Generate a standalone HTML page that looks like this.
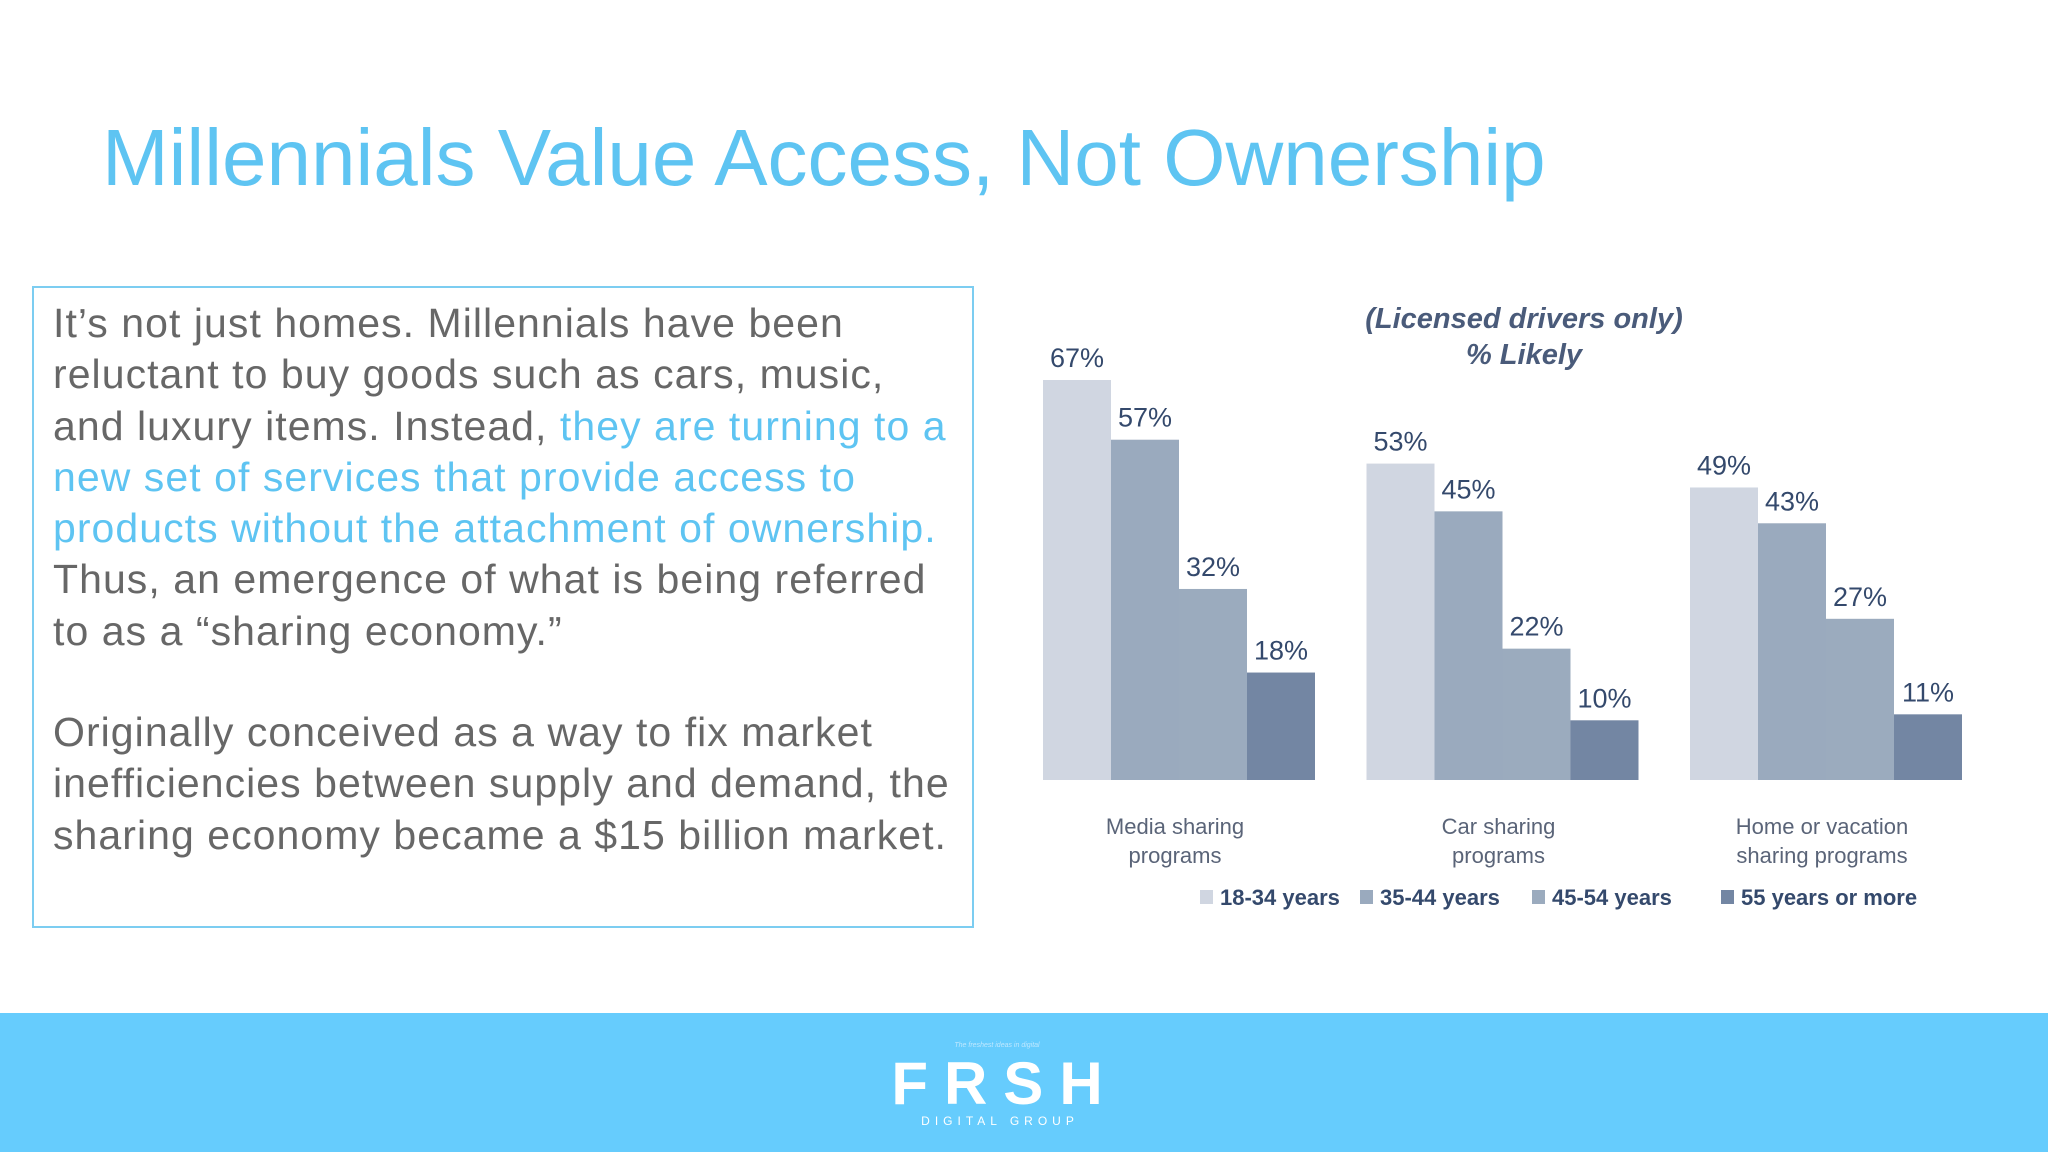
<!DOCTYPE html>
<html><head><meta charset="utf-8"><style>
body{margin:0;width:2048px;height:1152px;position:relative;background:#fff;font-family:"Liberation Sans",sans-serif;overflow:hidden}
#title{position:absolute;left:102px;top:112px;font-size:80px;color:#5ec4f2;white-space:nowrap}
#box{position:absolute;left:32px;top:286px;width:942px;height:642px;border:2px solid #7ccdf1;box-sizing:border-box}
#box p{margin:0;position:absolute;left:19px;font-size:41px;letter-spacing:1.05px;line-height:51.3px;color:#676767;width:960px}
.hl{color:#5ec4f2}
#footer{position:absolute;left:0;top:1013px;width:2048px;height:139px;background:#66ccfd}
</style></head><body>
<div id="title">Millennials Value Access, Not Ownership</div>
<div id="box">
<p style="top:10px">It’s not just homes. Millennials have been<br>reluctant to buy goods such as cars, music,<br>and luxury items. Instead, <span class="hl">they are turning to a<br>new set of services that provide access to<br>products without the attachment of ownership.</span><br>Thus, an emergence of what is being referred<br>to as a “sharing economy.”</p>
<p style="top:419px">Originally conceived as a way to fix market<br>inefficiencies between supply and demand, the<br>sharing economy became a $15 billion market.</p>
</div>
<svg id="chart" width="2048" height="1013" style="position:absolute;left:0;top:0"></svg>
<div id="footer">
<div style="position:absolute;left:-27px;width:2048px;top:29px;text-align:center;font-size:7px;color:#bfe8ff;font-style:italic">The freshest ideas in digital</div>
<div style="position:absolute;left:-19px;width:2048px;top:36px;text-align:center;font-size:60px;font-weight:bold;color:#fff;letter-spacing:16px">FRSH</div>
<div style="position:absolute;left:-24px;width:2048px;top:101px;text-align:center;font-size:12px;color:#fff;letter-spacing:5px">DIGITAL GROUP</div>
</div>
<script>
const categories=["Media sharing|programs","Car sharing|programs","Home or vacation|sharing programs"];
const seriesNames=["18-34 years","35-44 years","45-54 years","55 years or more"];
const s1834=[67,53,49];
const s3544=[57,45,43];
const s4554=[32,22,27];
const s55=[18,10,11];
const series=[s1834,s3544,s4554,s55];
const colors=["#d0d6e1","#9aaabe","#9babbe","#7386a3"];
const NS="http://www.w3.org/2000/svg";
const svg=document.getElementById('chart');
const base=780, perPct=5.97, g0=1043, gStep=323.5, bw=68;
const y=v=>base-v*perPct;
const x=(g,s)=>g0+g*gStep+s*bw;
function mk(t,a,txt){const e=document.createElementNS(NS,t);for(const k in a)e.setAttribute(k,a[k]);if(txt!=null)e.textContent=txt;svg.appendChild(e);return e;}
const t1=mk('text',{x:1524,y:328,'text-anchor':'middle','font-size':29,'font-weight':'bold','font-style':'italic',fill:'#4a5b7a'},'(Licensed drivers only)');


const t2=mk('text',{x:1524,y:364,'text-anchor':'middle','font-size':29,'font-weight':'bold','font-style':'italic',fill:'#4a5b7a'},'% Likely');


series.forEach((arr,s)=>{arr.forEach((v,g)=>{
 const r=mk('rect',{x:x(g,s),y:y(v),width:bw,height:base-y(v),fill:colors[s]});
 
 
 const l=mk('text',{x:x(g,s)+bw/2,y:y(v)-13,'text-anchor':'middle','font-size':27,fill:'#34496c'},v+'%');
 
 
});});
categories.forEach((c,g)=>{const parts=c.split('|');const cx=x(g,0)+132;
 parts.forEach((p,i)=>{const t=mk('text',{x:cx,y:834+i*29,'text-anchor':'middle','font-size':22,fill:'#5a6478'},p);
 
 });});
const lx=[1200,1360,1532,1721];
seriesNames.forEach((n,i)=>{
 const r=mk('rect',{x:lx[i],y:890,width:13,height:14,fill:colors[i]});
 
 
 const t=mk('text',{x:lx[i]+20,y:905,'font-size':22,'font-weight':'bold',fill:'#34496c'},n);
 
 
});
</script>
</body></html>
